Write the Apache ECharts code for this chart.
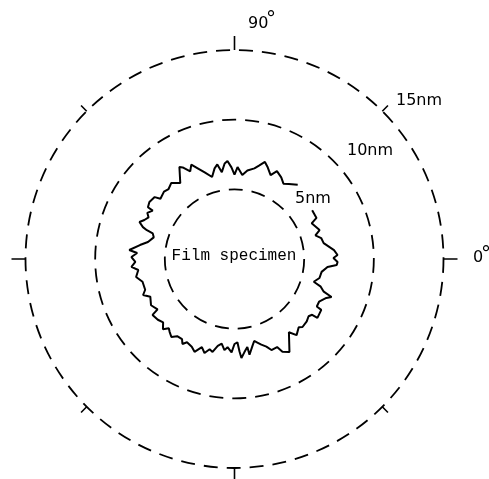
<!DOCTYPE html>
<html>
<head>
<meta charset="utf-8">
<script src="https://cdn.jsdelivr.net/npm/echarts@6/dist/echarts.min.js"></script>
<style>html,body{margin:0;padding:0;background:#fff;}#c{width:489px;height:479px;}</style>
</head>
<body>
<div id="c"></div>
<script>
// Contour profile: angle (deg, counter-clockwise from 0°) and radius (nm)
const profileAngle = [49.6,54.1,57.0,60.2,64.2,66.7,70.1,72.6,75.1,77.6,81.7,84.7,88.1,90.0,91.9,94.1,95.9,98.3,100.3,102.4,105.3,109.0,112.1,114.6,116.8,119.5,120.9,125.5,129.7,133.3,136.3,140.9,142.2,146.2,149.1,149.4,152.1,154.2,156.6,158.7,160.8,161.8,162.6,165.0,168.9,171.6,175.1,176.5,178.9,181.7,184.4,186.5,190.4,193.9,199.0,201.5,204.1,209.0,213.2,214.3,218.4,221.6,224.5,226.5,228.3,231.0,233.4,236.8,238.5,240.3,244.0,246.7,249.7,252.3,254.6,256.7,259.1,261.4,263.7,265.5,268.2,270.0,272.0,273.1,274.0,276.1,278.3,278.9,281.6,283.5,285.3,287.4,290.0,292.1,295.8,297.3,300.6,306.6,309.2,313.3,315.0,319.2,322.3,324.3,324.6,329.6,330.0,333.2,337.0,338.6,339.9,342.2,344.0,347.4,351.6,355.1,356.6,358.3,360.6,362.2,365.1,370.1,373.6,376.3,378.8,384.8,386.6,392.1];
const profileRadius = [7.00,6.65,6.45,6.75,7.00,6.55,7.00,7.30,6.95,6.66,6.42,6.05,6.60,6.05,6.58,7.05,6.89,6.30,6.90,6.66,6.10,6.57,7.02,7.45,7.05,7.55,7.70,6.70,7.10,6.90,7.00,6.85,7.25,7.35,7.24,6.82,7.08,6.85,7.05,7.32,6.96,6.62,6.15,6.00,6.33,6.86,7.58,7.00,7.40,7.12,7.42,6.95,7.18,6.80,6.78,7.05,6.62,6.85,6.60,7.12,7.02,6.85,7.20,6.85,7.00,7.20,6.90,6.88,7.15,6.88,7.00,7.25,6.75,7.08,6.72,6.85,6.35,6.15,6.58,6.35,6.70,6.10,5.98,6.65,7.12,6.72,6.38,6.96,6.38,6.05,6.22,6.44,6.69,7.05,7.02,7.50,7.75,6.55,7.05,6.72,6.90,6.85,6.72,6.86,7.30,7.22,6.82,6.80,7.16,7.48,6.82,6.50,5.92,6.25,6.32,6.70,7.35,7.40,7.10,7.40,7.17,6.50,6.40,6.05,6.45,6.10,6.58,6.58];
const ringValues = [5, 10, 15];
const ringLabels = ['5nm', '10nm', '15nm'];
const angleTickLabels = ['0', '90'];
const specimenLabel = 'Film specimen';

const data = profileAngle.map((a, i) => [profileRadius[i], a >= 360 ? a - 360 : a]);

const chart = echarts.init(document.getElementById('c'), null, {renderer: 'canvas'});

chart.setOption({
  animation: false,
  backgroundColor: '#fff',
  polar: {center: [234.5, 259], radius: 209},
  radiusAxis: {
    type: 'value', min: 0, max: ringValues[2], interval: 5,
    axisLine: {show: false}, axisTick: {show: false}, axisLabel: {show: false},
    splitLine: {show: true, lineStyle: {color: '#000', width: 1.8, type: [14, 9]}}
  },
  angleAxis: {
    type: 'value', min: 0, max: 360, interval: 90, startAngle: 0, clockwise: false,
    axisLine: {show: false},
    axisTick: {show: true, length: 14, lineStyle: {color: '#000', width: 1.6}},
    minorTick: {show: true, splitNumber: 2, length: 8, lineStyle: {color: '#000', width: 1.6}},
    axisLabel: {show: false}, splitLine: {show: false}
  },
  series: [{
    type: 'line', coordinateSystem: 'polar', data: data,
    showSymbol: false, symbol: 'none', smooth: false,
    lineStyle: {color: '#000', width: 2}
  }],
  graphic: [
    {type: 'text', x: 396, y: 101, style: {text: ringLabels[2], font: '16px "DejaVu Sans"', fill: '#000', verticalAlign: 'middle'}},
    {type: 'text', x: 347, y: 151, style: {text: ringLabels[1], font: '16px "DejaVu Sans"', fill: '#000', verticalAlign: 'middle'}},
    {type: 'text', x: 295, y: 199, style: {text: ringLabels[0], font: '16px "DejaVu Sans"', fill: '#000', verticalAlign: 'middle'}},
    {type: 'text', x: 248, y: 23.5, style: {text: angleTickLabels[1], font: '16px "DejaVu Sans"', fill: '#000', verticalAlign: 'middle'}},
    {type: 'text', x: 266, y: 20, style: {text: '°', font: '20px "DejaVu Sans"', fill: '#000', verticalAlign: 'middle'}},
    {type: 'text', x: 473, y: 257.5, style: {text: angleTickLabels[0], font: '16px "DejaVu Sans"', fill: '#000', verticalAlign: 'middle'}},
    {type: 'text', x: 481, y: 255, style: {text: '°', font: '20px "DejaVu Sans"', fill: '#000', verticalAlign: 'middle'}},
    {type: 'text', x: 234, y: 256, style: {text: specimenLabel, font: '16px "Liberation Mono"', fill: '#000', align: 'center', verticalAlign: 'middle'}}
  ]
});
</script>
</body>
</html>
